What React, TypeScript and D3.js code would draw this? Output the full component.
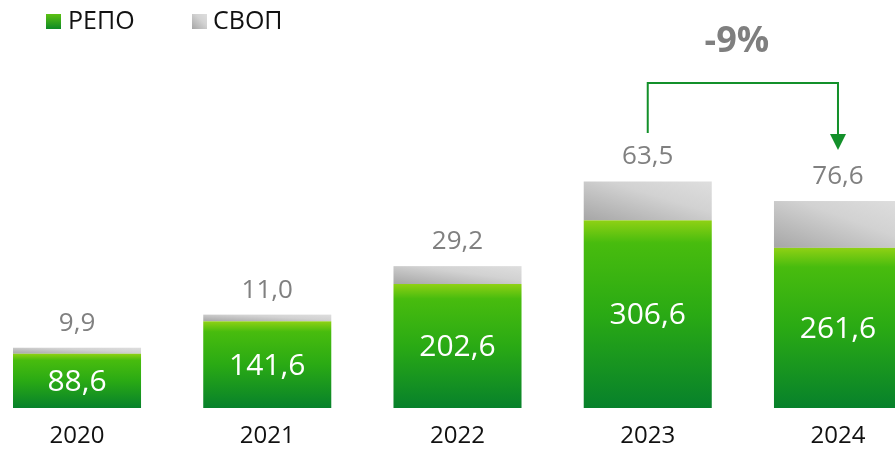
import React from "react";
import * as d3 from "d3";

const years = ["2020", "2021", "2022", "2023", "2024"];
const repo = [88.6, 141.6, 202.6, 306.6, 261.6];
const swap = [9.9, 11.0, 29.2, 63.5, 76.6];
const legendLabels = ["РЕПО", "СВОП"];
const changeLabel = "-9%";

const W = 895;
const H = 450;
const baseY = 408;
const FONT = "'Open Sans', sans-serif";

const fmt = (v: number) => v.toFixed(1).replace(".", ",");

export default function App() {
  const x = d3
    .scaleBand<string>()
    .domain(years)
    .range([13, 902])
    .paddingInner(0.327)
    .paddingOuter(0);
  const y = d3.scaleLinear().domain([0, 100]).range([baseY, baseY - 61.2]);
  const bw = x.bandwidth();

  const stacked = years.map((yr, i) => ({
    yr,
    repo: repo[i],
    swap: swap[i],
    repoTop: y(repo[i]),
    swapTop: y(repo[i] + swap[i]),
  }));

  // change bracket between the last two years
  const from = stacked[3];
  const to = stacked[4];
  const bx1 = (x(from.yr) ?? 0) + bw / 2;
  const bx2 = (x(to.yr) ?? 0) + bw / 2;
  const bracketTop = 83;
  const arrowTip = 150;

  return (
    <div style={{ position: "fixed", left: 0, top: 0, width: W, height: H, overflow: "hidden" }}>
      <svg width={W} height={H} style={{ display: "block", fontFamily: FONT }}>
        <defs>
          <linearGradient id="gRepo" x1="0" y1="0" x2="0" y2="1">
            <stop offset="0" stopColor="#8fd114" />
            <stop offset="0.12" stopColor="#48bc0e" />
            <stop offset="0.5" stopColor="#2aaa14" />
            <stop offset="1" stopColor="#07812b" />
          </linearGradient>
          <linearGradient id="gSwap" x1="0" y1="1" x2="1" y2="0">
            <stop offset="0" stopColor="#a6a6a6" />
            <stop offset="0.6" stopColor="#d2d2d2" />
            <stop offset="1" stopColor="#dedede" />
          </linearGradient>
          <linearGradient id="gLegRepo" x1="0" y1="0" x2="0" y2="1">
            <stop offset="0" stopColor="#5cc113" />
            <stop offset="1" stopColor="#0e8a25" />
          </linearGradient>
        </defs>

        {/* legend */}
        <rect x={46} y={14} width={15} height={15} fill="url(#gLegRepo)" />
        <text x={68} y={29} fontSize={25} fill="#111">
          {legendLabels[0]}
        </text>
        <rect x={192} y={14} width={15} height={15} fill="url(#gSwap)" />
        <text x={213} y={29} fontSize={25} fill="#111">
          {legendLabels[1]}
        </text>

        {stacked.map((d) => {
          const bx = x(d.yr) ?? 0;
          return (
            <g key={d.yr}>
              <rect
                x={bx}
                y={d.swapTop}
                width={bw}
                height={d.repoTop - d.swapTop}
                fill="url(#gSwap)"
              />
              <rect
                x={bx}
                y={d.repoTop}
                width={bw}
                height={baseY - d.repoTop}
                fill="url(#gRepo)"
              />
              <text
                x={bx + bw / 2}
                y={(d.repoTop + baseY) / 2 + 10}
                textAnchor="middle"
                fontSize={30}
                fill="#fff"
              >
                {fmt(d.repo)}
              </text>
              <text
                x={bx + bw / 2}
                y={d.swapTop - 17}
                textAnchor="middle"
                fontSize={26}
                fill="#808080"
              >
                {fmt(d.swap)}
              </text>
              <text
                x={bx + bw / 2}
                y={443}
                textAnchor="middle"
                fontSize={24}
                fill="#111"
              >
                {d.yr}
              </text>
            </g>
          );
        })}

        {/* change bracket */}
        <path
          d={`M${bx1},133 L${bx1},${bracketTop} L${bx2},${bracketTop} L${bx2},${arrowTip - 14}`}
          fill="none"
          stroke="#13902a"
          strokeWidth={2}
        />
        <path
          d={`M${bx2 - 8},${arrowTip - 16} L${bx2 + 8},${arrowTip - 16} L${bx2},${arrowTip} Z`}
          fill="#13902a"
        />
        <text
          x={(bx1 + bx2) / 2 - 6}
          y={52}
          textAnchor="middle"
          fontSize={36}
          fontWeight={700}
          fill="#7f7f7f"
        >
          {changeLabel}
        </text>
      </svg>
    </div>
  );
}
